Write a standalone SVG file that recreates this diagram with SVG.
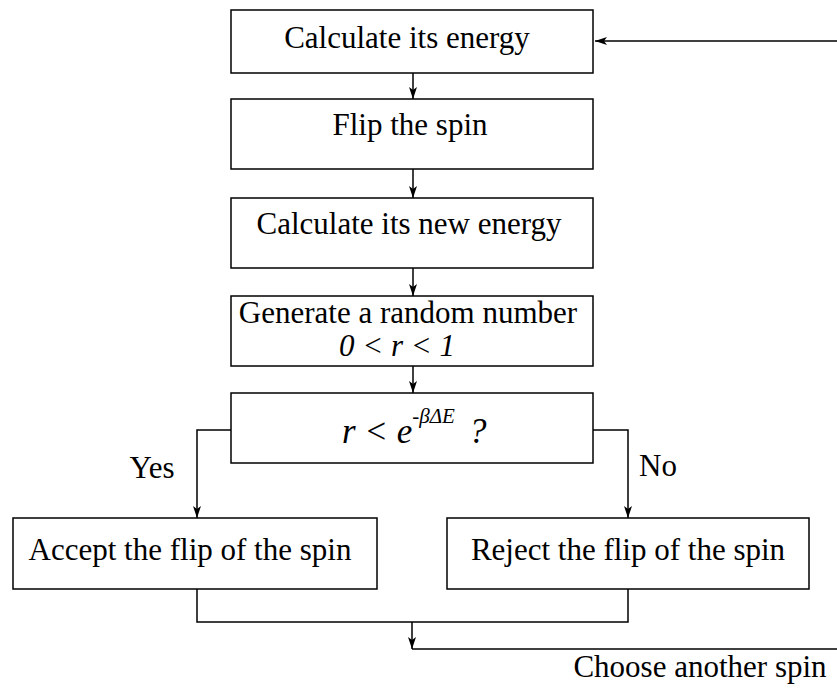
<svg xmlns="http://www.w3.org/2000/svg" width="837" height="690" viewBox="0 0 837 690">
<style>
.box{fill:#fff;stroke:#000;stroke-width:1.5}
.ln{fill:none;stroke:#000;stroke-width:1.5}
.t{font-family:"Liberation Serif","Times New Roman",serif;font-size:31px;fill:#000;text-anchor:middle}
.i{font-style:italic}
</style>
<defs>
<marker id="ah" viewBox="0 0 12 8" refX="12" refY="4" markerWidth="12" markerHeight="8" markerUnits="userSpaceOnUse" orient="auto">
<path d="M0,0 L12,4 L0,8 L3,4 Z" fill="#000"/>
</marker>
</defs>
<g id="connectors">
<line class="ln" x1="413" y1="73" x2="413" y2="99" marker-end="url(#ah)"/>
<line class="ln" x1="413" y1="169" x2="413" y2="198" marker-end="url(#ah)"/>
<line class="ln" x1="413" y1="268" x2="413" y2="296" marker-end="url(#ah)"/>
<line class="ln" x1="413" y1="366" x2="413" y2="393" marker-end="url(#ah)"/>
<polyline class="ln" points="231,430 197,430 197,518" marker-end="url(#ah)"/>
<polyline class="ln" points="593,430 628,430 628,518" marker-end="url(#ah)"/>
<polyline class="ln" points="197,589 197,622 628,622 628,589"/>
<line class="ln" x1="412" y1="622" x2="412" y2="649" marker-end="url(#ah)"/>
<line class="ln" x1="412" y1="649" x2="837" y2="649"/>
<line class="ln" x1="837" y1="41" x2="595" y2="41" marker-end="url(#ah)"/>
</g>
<g id="n1"><rect class="box" x="231" y="10" width="362" height="63"/><text class="t" x="407" y="48">Calculate its energy</text></g>
<g id="n2"><rect class="box" x="231" y="99" width="362" height="70"/><text class="t" x="410" y="135">Flip the spin</text></g>
<g id="n3"><rect class="box" x="231" y="198" width="362" height="70"/><text class="t" x="409" y="234">Calculate its new energy</text></g>
<g id="n4"><rect class="box" x="231" y="296" width="362" height="70"/><text class="t" x="408" y="323">Generate a random number</text><text class="t i" x="397" y="356">0 &lt; r &lt; 1</text></g>
<g id="n5"><rect class="box" x="231" y="393" width="362" height="70"/><text class="t" x="342" y="443" style="font-size:35px;text-anchor:start"><tspan class="i">r &lt; e</tspan><tspan class="i" dy="-20" style="font-size:21px">-βΔE</tspan><tspan class="i" dy="20" dx="14">?</tspan></text></g>
<g id="n6"><rect class="box" x="13" y="518" width="364" height="71"/><text class="t" x="190" y="560">Accept the flip of the spin</text></g>
<g id="n7"><rect class="box" x="447" y="518" width="362" height="71"/><text class="t" x="628" y="560">Reject the flip of the spin</text></g>
<g id="labels">
<text class="t" x="152" y="478">Yes</text>
<text class="t" x="658" y="476">No</text>
<text class="t" x="700" y="677">Choose another spin</text>
</g>
</svg>
